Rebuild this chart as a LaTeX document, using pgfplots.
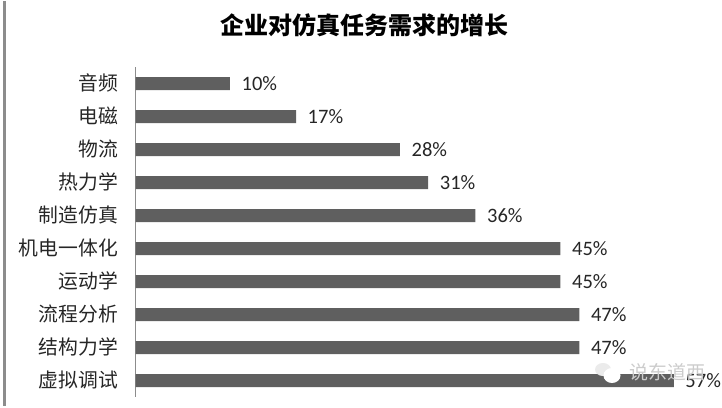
\documentclass[border=0pt]{standalone}
\usepackage{pgfplots}
\pgfplotsset{compat=1.18}
\usepackage{fontspec}
\setmainfont{Carlito}
\newfontfamily\cjk{Noto Sans CJK SC}
\definecolor{barcol}{HTML}{5F5F5F}
\definecolor{framecol}{HTML}{8C8C8C}
\begin{document}
\begin{tikzpicture}[x=1pt,y=1pt]
  % page = 722x404, 1pt per pixel, y measured from the bottom
  \path (0,0) rectangle (722,404);
  \draw[framecol,line width=3pt] (4,0) -- (4,404);
  \node[font=\cjk\fontsize{24}{24}\selectfont\bfseries,text=black] at (364,380) {企业对仿真任务需求的增长};
  \begin{axis}[
      at={(135.5pt,8.3pt)}, anchor=south west,
      scale only axis, width=566.6pt, height=330pt,
      xmin=0, xmax=60,
      ymin=-0.5, ymax=9.5,
      y dir=reverse,
      clip=false,
      axis y line*=left,
      axis x line=none,
      axis line style={draw=framecol,line width=0.8pt,-},
      ytick={0,...,9},
      yticklabels={音频,电磁,物流,热力学,制造仿真,机电一体化,运动学,流程分析,结构力学,虚拟调试},
      y tick label style={font=\cjk\fontsize{19.8}{20}\selectfont,text=black!85,anchor=east},
      yticklabel shift=0pt,
      tick style={draw=none},
      tick align=outside,
      major tick length=0pt,
      y tick label style={xshift=-14pt,yshift=0.5pt},
      xbar,
      bar width=13pt,
      nodes near coords={\pgfmathprintnumber[assume math mode=true]{\pgfplotspointmeta}\%},
      nodes near coords align={horizontal},
      every node near coord/.append style={font=\fontsize{20.5}{20.5}\selectfont,text=black!85,inner sep=0pt,xshift=11.5pt,yshift=0pt},
    ]
    \addplot[fill=barcol,draw=none] coordinates {
      (10,0) (17,1) (28,2) (31,3) (36,4) (45,5) (45,6) (47,7) (47,8) (57,9)
    };
  \end{axis}
  % watermark over the last bar
  \fill[white!92!black] (603,36) ellipse (8 and 6.5);
  \fill[white] (612,30) ellipse (8.5 and 7.5);
  \node[font=\cjk\fontsize{19}{19}\selectfont,text=white!80!black,anchor=west] at (626,33) {说东道西};
\end{tikzpicture}
\end{document}
